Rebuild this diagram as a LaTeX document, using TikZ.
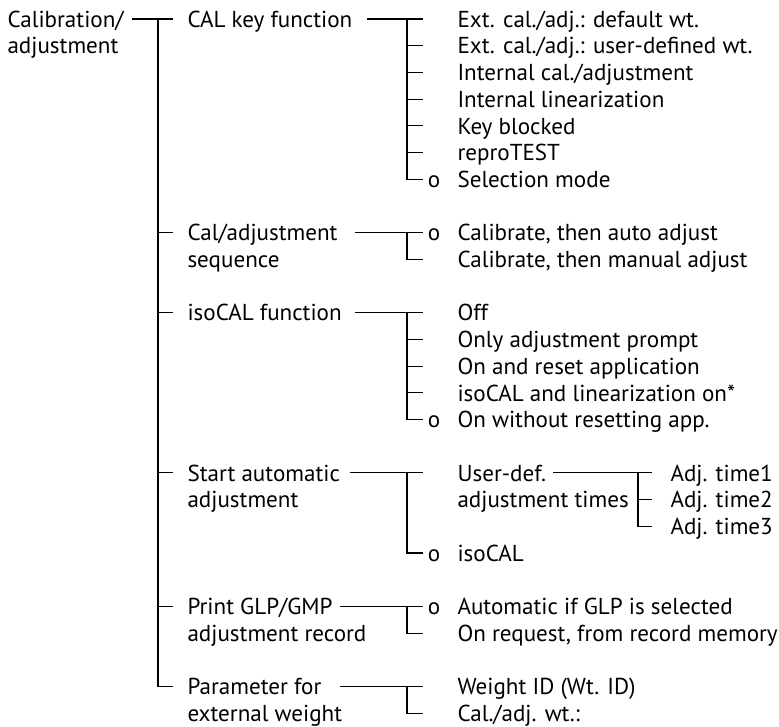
\documentclass[tikz,border=0pt]{standalone}
\usepackage{fontspec}
\setmainfont{PT Sans}
\begin{document}
\begin{tikzpicture}[x=0.75pt,y=-0.75pt,line width=0.8pt,
  lbl/.style={anchor=base west,inner sep=0pt,align=left,font=\fontsize{17.3}{20.03}\selectfont},
  mk/.style={anchor=base,inner sep=0pt,font=\fontsize{17.3}{20.03}\selectfont},
  conn/.style={draw=black,line width=0.8pt}]
\useasboundingbox (0,0) rectangle (779,727);
% (two-line nodes are placed by the baseline of their second line)
% ---------- level 1 ----------
\node[lbl] (root) at (7,54) {Calibration/\\adjustment};
% ---------- level 2 ----------
\node[lbl] (cal) at (187,27.3) {CAL key function};
\node[lbl] (seq) at (187,267.6) {Cal/adjustment\\sequence};
\node[lbl] (iso) at (187,321) {isoCAL function};
\node[lbl] (start) at (187,507.9) {Start automatic\\adjustment};
\node[lbl] (print) at (187,641.4) {Print GLP/GMP\\adjustment record};
\node[lbl] (param) at (187,721.5) {Parameter for\\external weight};
% ---------- level 3 ----------
\node[lbl] (c1) at (457,27.3) {Ext. cal./adj.: default wt.};
\node[lbl] (c2) at (457,54) {Ext. cal./adj.: user-defined wt.};
\node[lbl] (c3) at (457,80.7) {Internal cal./adjustment};
\node[lbl] (c4) at (457,107.4) {Internal linearization};
\node[lbl] (c5) at (457,134.1) {Key blocked};
\node[lbl] (c6) at (457,160.8) {reproTEST};
\node[lbl] (c7) at (457,187.5) {Selection mode};
\node[mk] (c7o) at (434,187.5) {o};
\node[lbl] (s1) at (457,240.9) {Calibrate, then auto adjust};
\node[mk] (s1o) at (434,240.9) {o};
\node[lbl] (s2) at (457,267.6) {Calibrate, then manual adjust};
\node[lbl] (i1) at (457,321) {Off};
\node[lbl] (i2) at (457,347.7) {Only adjustment prompt};
\node[lbl] (i3) at (457,374.4) {On and reset application};
\node[lbl] (i4) at (457,401.1) {isoCAL and linearization on*};
\node[lbl] (i5) at (457,427.8) {On without resetting app.};
\node[mk] (i5o) at (434,427.8) {o};
\node[lbl] (a1) at (457,507.9) {User-def.\\adjustment times};
\node[lbl] (a2) at (457,561.3) {isoCAL};
\node[mk] (a2o) at (434,561.3) {o};
\node[lbl] (p1) at (457,614.7) {Automatic if GLP is selected};
\node[mk] (p1o) at (434,614.7) {o};
\node[lbl] (p2) at (457,641.4) {On request, from record memory};
\node[lbl] (w1) at (457,694.8) {Weight ID (Wt. ID)};
\node[lbl] (w2) at (457,721.5) {Cal./adj. wt.:};
% ---------- level 4 ----------
\node[lbl] (t1) at (670,481.2) {Adj. time1};
\node[lbl] (t2) at (670,507.9) {Adj. time2};
\node[lbl] (t3) at (670,534.6) {Adj. time3};
% ---------- connector coordinates ----------
% root
\coordinate (r0) at (132,19);
\coordinate (rj) at (158,19);
\coordinate (rb) at (158,686.5);
% level-2 ticks
\coordinate (k1) at (173,19);
\coordinate (k2) at (173,232.6);
\coordinate (k3) at (173,312.7);
\coordinate (k4) at (173,472.9);
\coordinate (k5) at (173,606.4);
\coordinate (k6) at (173,686.5);
\draw[conn] (r0) -- (k1);
\draw[conn] (rj) -- (rb) -- (k6);
\draw[conn] (rj |- k2) -- (k2);
\draw[conn] (rj |- k3) -- (k3);
\draw[conn] (rj |- k4) -- (k4);
\draw[conn] (rj |- k5) -- (k5);
% CAL key function
\coordinate (cs) at (367,19);
\coordinate (cj) at (407,19);
\coordinate (cb) at (407,179.2);
\draw[conn] (cs) -- (423,19);
\draw[conn] (cj) -- (cb) -- (423,179.2);
\foreach \y in {45.7,72.4,99.1,125.8,152.5} \draw[conn] (407,\y) -- (423,\y);
% Cal/adjustment sequence
\coordinate (ss) at (355,232.6);
\coordinate (sj) at (407,232.6);
\coordinate (sb) at (407,259.3);
\draw[conn] (ss) -- (423,232.6);
\draw[conn] (sj) -- (sb) -- (423,259.3);
% isoCAL function
\coordinate (is) at (355,312.7);
\coordinate (ij) at (407,312.7);
\coordinate (ib) at (407,419.5);
\draw[conn] (is) -- (423,312.7);
\draw[conn] (ij) -- (ib) -- (423,419.5);
\foreach \y in {339.4,366.1,392.8} \draw[conn] (407,\y) -- (423,\y);
% Start automatic adjustment
\coordinate (as) at (350,472.9);
\coordinate (aj) at (407,472.9);
\coordinate (ab) at (407,553);
\draw[conn] (as) -- (423,472.9);
\draw[conn] (aj) -- (ab) -- (423,553);
% User-def. adjustment times
\coordinate (us) at (553,472.9);
\coordinate (uj) at (638,472.9);
\coordinate (ub) at (638,526.3);
\draw[conn] (us) -- (652,472.9);
\draw[conn] (uj) -- (ub) -- (652,526.3);
\draw[conn] (638,499.6) -- (652,499.6);
% Print GLP/GMP
\coordinate (ps) at (340,606.4);
\coordinate (pj) at (407,606.4);
\coordinate (pb) at (407,633.1);
\draw[conn] (ps) -- (423,606.4);
\draw[conn] (pj) -- (pb) -- (423,633.1);
% Parameter for external weight
\coordinate (ws) at (340,686.5);
\coordinate (wj) at (407,686.5);
\coordinate (wb) at (407,713.2);
\draw[conn] (ws) -- (423,686.5);
\draw[conn] (wj) -- (wb) -- (423,713.2);
\end{tikzpicture}
\end{document}
